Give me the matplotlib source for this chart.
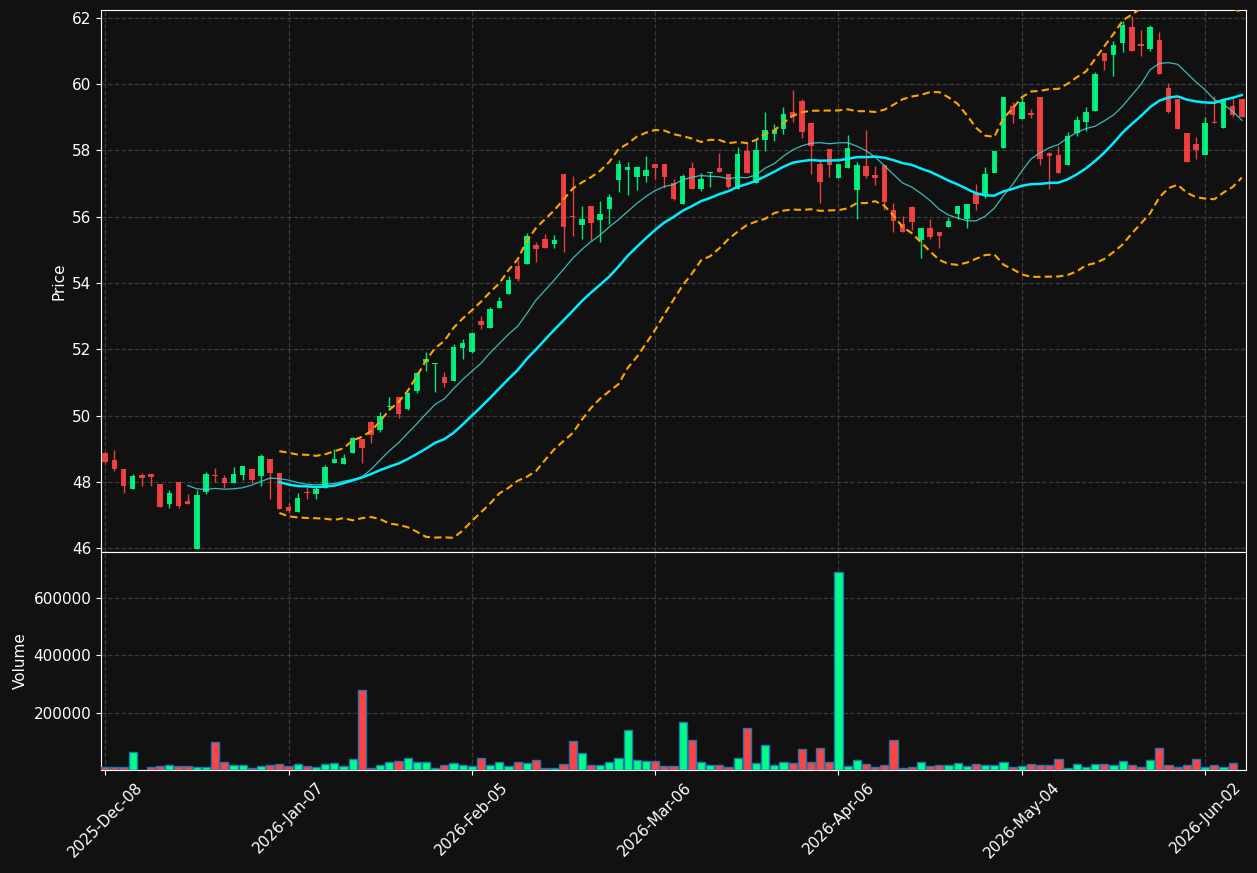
import numpy as np
import pandas as pd
import matplotlib
matplotlib.use("Agg")
import matplotlib.pyplot as plt

# --- OHLCV data (one row per trading day) ---
opens = [48.88, 48.66, 48.39, 47.79, 48.20, 48.23, 47.93, 47.34, 47.99, 47.42,
         45.98, 47.70, 48.20, 48.11, 47.96, 48.20, 48.38, 48.17, 48.69, 48.27,
         47.24, 47.10, 47.68, 47.63, 47.82, 48.57, 48.54, 48.88, 49.28, 49.80,
         49.57, 50.27, 50.55, 50.20, 50.74, 51.62, 51.54, 51.16, 51.04, 52.03,
         51.92, 52.85, 52.65, 53.26, 53.68, 54.51, 54.58, 55.15, 55.33, 55.19,
         57.29, 56.02, 55.76, 56.33, 55.91, 56.24, 57.12, 57.42, 57.21, 57.24,
         57.59, 57.59, 57.03, 56.40, 57.47, 56.85, 57.33, 57.47, 57.29, 56.85,
         57.98, 57.03, 58.33, 58.51, 58.65, 59.16, 59.49, 58.83, 57.59, 58.05,
         57.18, 57.48, 56.82, 57.53, 57.26, 57.56, 56.20, 55.78, 56.30, 55.31,
         55.66, 55.53, 55.70, 56.09, 55.93, 56.71, 56.63, 57.33, 58.08, 59.35,
         58.96, 59.12, 59.61, 57.93, 57.87, 57.56, 58.54, 58.86, 59.20, 60.93,
         60.89, 61.26, 61.73, 61.22, 61.06, 61.34, 59.89, 59.55, 58.53, 58.20,
         57.85, 58.87, 58.69, 59.34, 59.55]
highs = [48.90, 48.96, 48.40, 48.24, 48.25, 48.23, 47.93, 47.75, 47.99, 47.62,
         47.75, 48.30, 48.41, 48.20, 48.45, 48.48, 48.38, 48.84, 48.69, 48.27,
         47.35, 47.65, 47.83, 47.85, 48.51, 48.98, 48.84, 49.35, 49.30, 49.82,
         50.10, 50.55, 50.55, 50.70, 51.30, 51.91, 51.60, 51.31, 52.16, 52.31,
         52.50, 53.00, 53.27, 53.57, 54.21, 54.70, 55.50, 55.23, 55.47, 55.44,
         57.29, 57.23, 56.33, 56.33, 56.48, 56.69, 57.71, 57.65, 57.54, 57.82,
         57.60, 57.60, 57.15, 57.28, 57.64, 57.31, 57.35, 57.91, 57.29, 58.12,
         58.22, 58.32, 59.15, 58.79, 59.30, 59.82, 59.55, 58.83, 57.68, 58.05,
         57.60, 58.46, 57.64, 58.62, 57.52, 57.56, 56.41, 56.03, 56.32, 55.66,
         55.93, 55.53, 55.98, 56.32, 56.38, 56.98, 57.49, 57.99, 59.61, 59.45,
         59.60, 59.25, 59.61, 57.95, 58.14, 58.56, 59.03, 59.30, 60.37, 60.95,
         61.30, 61.90, 62.05, 61.63, 61.78, 61.58, 60.03, 59.55, 58.53, 58.40,
         59.01, 59.64, 59.56, 59.58, 59.55]
lows = [48.58, 48.34, 47.67, 47.79, 47.88, 47.88, 47.25, 47.22, 47.22, 47.34,
        45.98, 47.64, 48.00, 47.80, 47.96, 48.05, 47.97, 47.88, 47.47, 47.18,
        47.05, 47.10, 47.47, 47.49, 47.82, 48.57, 48.54, 48.88, 48.58, 49.16,
        49.51, 50.17, 49.92, 50.18, 50.67, 51.35, 50.70, 50.85, 51.04, 51.70,
        51.90, 52.60, 52.65, 53.26, 53.68, 54.06, 54.58, 54.62, 55.05, 55.05,
        54.95, 55.43, 55.34, 55.30, 55.25, 55.79, 56.74, 56.67, 56.82, 57.06,
        57.15, 56.86, 56.51, 56.40, 56.85, 56.77, 56.89, 57.35, 56.86, 56.85,
        57.33, 57.02, 57.97, 58.28, 58.49, 58.85, 58.37, 57.28, 56.43, 57.21,
        57.18, 57.48, 55.92, 57.17, 56.97, 56.20, 55.53, 55.55, 55.60, 54.75,
        55.32, 55.07, 55.70, 55.93, 55.67, 56.19, 56.58, 57.33, 58.08, 58.82,
        58.96, 58.98, 57.56, 56.83, 57.32, 57.56, 58.44, 58.58, 59.20, 60.42,
        60.24, 60.96, 61.01, 60.86, 61.01, 60.32, 59.13, 58.66, 57.66, 57.75,
        57.85, 58.84, 58.69, 59.02, 59.01]
closes = [48.61, 48.40, 47.88, 48.18, 48.12, 48.15, 47.25, 47.66, 47.28, 47.34,
          47.60, 48.23, 48.17, 47.96, 48.23, 48.48, 48.05, 48.78, 48.27, 47.18,
          47.13, 47.51, 47.65, 47.78, 48.45, 48.69, 48.72, 49.32, 49.03, 49.42,
          50.00, 50.30, 50.06, 50.68, 51.28, 51.70, 51.59, 50.98, 52.07, 52.20,
          52.49, 52.73, 53.22, 53.46, 54.09, 54.12, 55.42, 55.04, 55.07, 55.30,
          55.70, 56.00, 55.93, 55.82, 56.08, 56.60, 57.59, 57.50, 57.50, 57.41,
          57.48, 57.21, 56.54, 57.23, 56.85, 57.14, 57.35, 57.35, 56.90, 57.89,
          57.33, 58.02, 58.61, 58.61, 59.10, 59.02, 58.57, 58.15, 57.06, 57.57,
          57.59, 58.08, 57.56, 57.24, 57.18, 56.46, 55.88, 55.55, 55.85, 55.66,
          55.40, 55.43, 55.87, 56.32, 56.38, 56.40, 57.29, 57.99, 59.61, 59.08,
          59.45, 59.07, 57.74, 57.84, 57.32, 58.44, 58.92, 59.16, 60.31, 60.71,
          61.19, 61.78, 61.01, 61.14, 61.73, 60.32, 59.17, 58.66, 57.66, 58.00,
          58.83, 58.84, 59.56, 59.07, 59.01]
volumes = [9400, 9400, 9400, 62000, 2300, 9400, 12900, 16400, 12900, 12900,
           11700, 11700, 97000, 29000, 16400, 16400, 8200, 12900, 16400, 19900,
           12900, 19900, 12900, 11700, 19900, 23400, 12900, 37400, 280000, 8200,
           16400, 26900, 30400, 41000, 26900, 26900, 8200, 16400, 23400, 16400,
           12900, 41000, 16400, 26900, 12900, 26900, 23400, 34000, 8200, 8200,
           19900, 100600, 58500, 16400, 16400, 26900, 41000, 139000, 34000, 30400,
           30400, 12900, 12900, 167000, 104000, 26900, 16400, 16400, 9400, 41000,
           146000, 23400, 86600, 16400, 26900, 23400, 72500, 26900, 76000, 26900,
           690000, 12900, 34000, 19900, 9400, 16400, 104000, 5900, 9400, 26900,
           12900, 16400, 16400, 23400, 12900, 19900, 16400, 16400, 26900, 9400,
           12900, 19900, 16400, 16400, 37400, 5900, 19900, 9400, 19900, 19900,
           16400, 30400, 16400, 9400, 34000, 76000, 16400, 9400, 16400, 37400,
           9400, 16400, 9400, 23400, 2300]

# trading days (NYSE calendar)
holidays = ["2025-12-25", "2026-01-01", "2026-01-19", "2026-02-16", "2026-04-03", "2026-05-25"]
dates = pd.bdate_range("2025-12-08", periods=len(closes), freq="C", holidays=holidays)

df = pd.DataFrame({"Open": opens, "High": highs, "Low": lows, "Close": closes,
                   "Volume": volumes}, index=dates)

# --- indicators ---
ma10 = df["Close"].rolling(10).mean()
ma20 = df["Close"].rolling(20).mean()
std20 = df["Close"].rolling(20).std()
bb_up = ma20 + 2 * std20
bb_lo = ma20 - 2 * std20

# --- style ---
bg = "#111111"
up_col = "#00ff88"
dn_col = "#ff4444"
plt.rcParams["font.size"] = 11

fig = plt.figure(figsize=(12.57, 8.73), dpi=100, facecolor=bg)
ax = fig.add_axes([0.0804, 0.3677, 0.9108, 0.6208], facecolor=bg)
axv = fig.add_axes([0.0804, 0.118, 0.9108, 0.2497], facecolor=bg, sharex=ax)

x = np.arange(len(df))
up = df["Close"] >= df["Open"]
colors = np.where(up, up_col, dn_col)

# candles
ax.vlines(x, df["Low"], df["High"], colors=colors, linewidth=1, alpha=0.9, zorder=2)
body_lo = np.minimum(df["Open"], df["Close"])
body_h = np.maximum((df["Close"] - df["Open"]).abs(), 0.03)
ax.bar(x, body_h, bottom=body_lo, width=0.6, color=colors, alpha=0.9, linewidth=0, zorder=3)

# moving averages and bands
ax.plot(x, ma10, color="#3fd8d8", linewidth=0.9, alpha=0.85, zorder=4)
ax.plot(x, ma20, color="#00eeff", linewidth=1.8, zorder=4)
ax.plot(x, bb_up, color="#ffa500", linewidth=1.5, linestyle=(0, (3.5, 2)), zorder=4)
ax.plot(x, bb_lo, color="#ffa500", linewidth=1.5, linestyle=(0, (3.5, 2)), zorder=4)

ax.set_ylim(45.88, 62.24)
ax.set_yticks(np.arange(46, 63, 2))
ax.set_ylabel("Price", color="white")

# volume
axv.bar(x, df["Volume"], width=0.9, color=colors, edgecolor="#1f77b4", linewidth=1, zorder=3)
axv.set_ylim(0.3 * min(volumes), 1.1 * max(volumes))
axv.set_yticks([200000, 400000, 600000])
axv.ticklabel_format(axis="y", style="plain")
axv.set_ylabel("Volume", color="white")

tick_pos = list(range(0, len(df), 20))
axv.set_xticks(tick_pos)
axv.set_xticklabels([dates[i].strftime("%Y-%b-%d") for i in tick_pos], rotation=45, ha="center")
axv.set_xlim(-0.45, len(df) - 0.55)
plt.setp(ax.get_xticklabels(), visible=False)

for a in (ax, axv):
    a.grid(True, linestyle="--", color="#555555", alpha=0.6, linewidth=0.9)
    a.set_axisbelow(True)
    a.tick_params(colors="white", labelcolor="white")
    for s in a.spines.values():
        s.set_color("white")

fig.savefig("out.png", dpi=100, facecolor=bg)
